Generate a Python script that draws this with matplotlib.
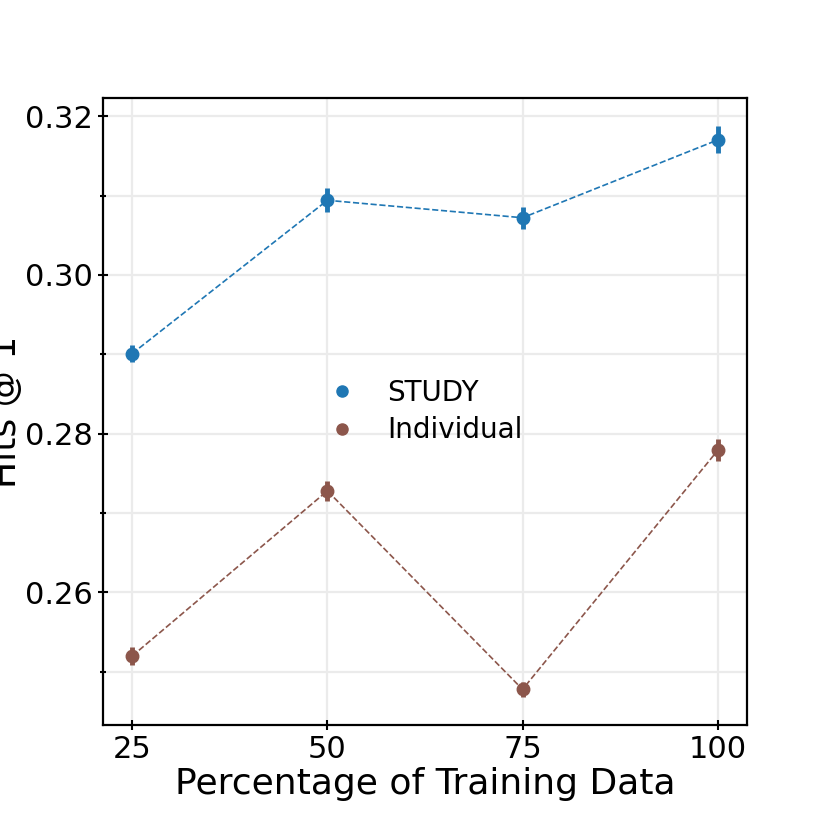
import matplotlib.pyplot as plt
from matplotlib.lines import Line2D
from matplotlib.ticker import MultipleLocator

# ----------------------------------------------------
# Data
# ----------------------------------------------------

pct = [25, 50, 75, 100]

study_mean = [0.2901, 0.3094, 0.3072, 0.3170]
study_err = [0.0011, 0.0015, 0.0014, 0.0017]

indiv_mean = [0.2520, 0.2728, 0.2478, 0.2779]
indiv_err = [0.0011, 0.0013, 0.0009, 0.0014]

blue = "#1f77b4"
brown = "#8c564b"

# ----------------------------------------------------
# Plot
# ----------------------------------------------------

fig = plt.figure(figsize=(8.3, 8.3), dpi=100)
ax = fig.add_axes([0.124, 0.1265, 0.776, 0.7555])

for mean, err, color in [(study_mean, study_err, blue), (indiv_mean, indiv_err, brown)]:
    ax.plot(pct, mean, "--", color=color, linewidth=1.2, zorder=2)
    ax.errorbar(
        pct,
        mean,
        yerr=err,
        fmt="o",
        color=color,
        markersize=9,
        elinewidth=3.5,
        capsize=0,
        zorder=3,
    )

handles = [
    Line2D([], [], marker="o", linestyle="none", color=blue, markersize=8, label="STUDY"),
    Line2D([], [], marker="o", linestyle="none", color=brown, markersize=8, label="Individual"),
]
ax.legend(handles=handles, loc="center", bbox_to_anchor=(0.49, 0.5), frameon=False,
          fontsize=20, handlelength=2.0, handletextpad=0.6, labelspacing=0.35)

ax.set_xticks(pct)
ax.yaxis.set_major_locator(MultipleLocator(0.02))
ax.yaxis.set_minor_locator(MultipleLocator(0.01))
ax.yaxis.set_major_formatter(plt.FormatStrFormatter("%.2f"))

ax.tick_params(axis="both", which="major", direction="inout", length=7, width=1.5, labelsize=22)
ax.tick_params(axis="y", which="minor", direction="inout", length=4, width=1.5)

ax.grid(True, which="major", color="#ebebeb", linewidth=1.6, zorder=0)
ax.grid(True, which="minor", axis="y", color="#ebebeb", linewidth=1.6, zorder=0)
ax.set_axisbelow(True)

for spine in ax.spines.values():
    spine.set_linewidth(1.6)

ax.set_xlabel("Percentage of Training Data", fontsize=26, labelpad=2)
ax.set_ylabel("Hits @ 1", fontsize=26, labelpad=2)

fig.savefig("out.png", dpi=100)
